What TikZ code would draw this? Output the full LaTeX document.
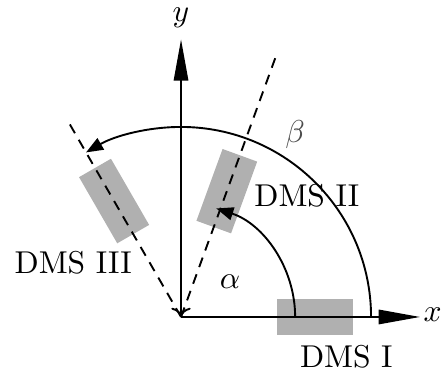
\documentclass[tikz,border=0pt]{standalone}
\usepackage{tikz}
\usetikzlibrary{arrows.meta, positioning}
\usepackage{amsmath, amssymb}
\usepackage{xcolor}
\definecolor{dmsgray}{RGB}{176, 176, 176}

\begin{document}
\begin{tikzpicture}[
      line width=0.6pt,
      gauge/.style={rectangle, fill=dmsgray, inner sep=0pt, minimum width=0.85cm, minimum height=0.41cm},
      axis/.style={-{Triangle[length=4.6mm, width=1.6mm]}},
      angarr/.style={-{Triangle[length=1.9mm, width=1.45mm]}},
      guide/.style={dash pattern=on 3.2pt off 2.4pt},
      lbl/.style={font=\normalsize, inner sep=0pt}
    ]
      \useasboundingbox (-2.015, -0.579) rectangle (2.938, 3.528);

      \coordinate (O) at (0, 0);
      \coordinate (X) at (2.66, 0);
      \coordinate (Y) at (0, 3.09);
      \coordinate (G2) at (70:3.08);
      \coordinate (G3) at (120:2.53);
      \coordinate (A0) at (1.27, 0);
      \coordinate (B0) at (2.115, 0);

      \node[gauge] (S1) at (0:1.49) {};
      \node[gauge, rotate=70] (S2) at (70:1.49) {};
      \node[gauge, rotate=120] (S3) at (120:1.49) {};

      \draw[guide] (O) -- (G2);
      \draw[guide] (O) -- (G3);

      \draw[axis] (O) -- (X);
      \draw[{Triangle[length=4.6mm, width=1.6mm]}-{To}] (Y) -- (O);

      \draw[angarr] (A0) arc[start angle=0, end angle=72, radius=1.27];
      \draw[angarr] (B0) arc[start angle=0, end angle=120, radius=2.115];

      \node[lbl] (xl) at (2.80, 0.02) {$x$};
      \node[lbl] (yl) at (0, 3.33) {$y$};
      \node[lbl] (al) at (0.545, 0.39) {$\alpha$};
      \node[lbl, black!70] (bl) at (1.27, 2.03) {$\beta$};

      \node[lbl] (L1) at (1.84, -0.44) {DMS I};
      \node[lbl] (L2) at (1.40, 1.35) {DMS II};
      \node[lbl] (L3) at (-1.20, 0.60) {DMS III};
    \end{tikzpicture}
\end{document}
